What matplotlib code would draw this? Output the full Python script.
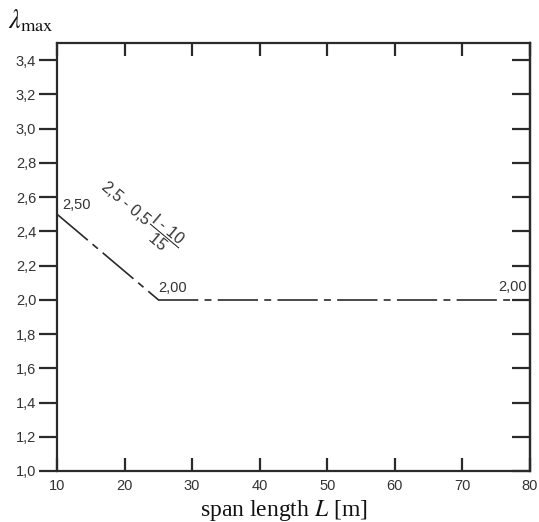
import matplotlib
matplotlib.use("Agg")
import matplotlib.pyplot as plt

# data
span_L = [10, 25, 80]
lam_max = [2.50, 2.00, 2.00]
x_ticks = [10, 20, 30, 40, 50, 60, 70, 80]
y_ticks = [1.0, 1.2, 1.4, 1.6, 1.8, 2.0, 2.2, 2.4, 2.6, 2.8, 3.0, 3.2, 3.4]
point_labels = ["2,50", "2,00", "2,00"]

plt.rcParams['lines.scale_dashes'] = False
plt.rcParams['mathtext.fontset'] = 'custom'
plt.rcParams['mathtext.rm'] = 'Liberation Sans'
plt.rcParams['mathtext.it'] = 'Liberation Sans:italic'
plt.rcParams['mathtext.bf'] = 'Liberation Sans:bold'

ink = '#2a2a2a'
fig = plt.figure(figsize=(5.39, 5.22), dpi=100)
ax = fig.add_axes([57/539, 51/522, 473/539, 428/522])
ax.set_xlim(10, 80)
ax.set_ylim(1.0, 3.5)

dash = (29, 4.5, 5, 4.5)
ax.plot(span_L[:2], lam_max[:2], color=ink, lw=1.2, dashes=dash)
ax.plot(span_L[1:], lam_max[1:], color=ink, lw=1.2, dashes=dash)

for s in ax.spines.values():
    s.set_linewidth(1.6)
    s.set_color(ink)

tick_font = dict(fontfamily='Liberation Sans', fontsize=10.5, color='#333333')
ax.set_xticks(x_ticks)
ax.set_xticklabels([str(v) for v in x_ticks], **tick_font)
ax.set_yticks(y_ticks)
ax.set_yticklabels([f"{v:.1f}".replace('.', ',') for v in y_ticks], **tick_font)
ax.tick_params(axis='x', direction='in', length=9.5, width=1.6, color=ink, top=True, pad=6)
ax.tick_params(axis='y', direction='out', length=13, width=1.6, color=ink, pad=2)
ax2 = ax.secondary_yaxis('right')
ax2.set_yticks(y_ticks)
ax2.set_yticklabels([])
ax2.tick_params(axis='y', direction='in', length=13, width=1.6, color=ink)
ax2.spines['right'].set_linewidth(1.6)
ax2.spines['right'].set_color(ink)

lab_font = dict(fontfamily='Liberation Sans', fontsize=10.5, color='#333333')
# point labels
ax.text(10.8, 2.53, point_labels[0], ha='left', va='baseline', **lab_font)
ax.text(25.0, 2.045, point_labels[1], ha='left', va='baseline', **lab_font)
ax.text(79.5, 2.05, point_labels[2], ha='right', va='baseline', **lab_font)

# formula
ax.text(22.4, 2.49, r'$2{,}5\ \text{-}\ 0{,}5\,\dfrac{\mathrm{l}\ \text{-}\ 10}{15}$', fontsize=11.5, color='#333333',
        rotation=-40, rotation_mode='anchor', ha='center', va='center')

# axis labels
fig.text(8/539, (522-28)/522, r'$\lambda_{\mathrm{max}}$', math_fontfamily='stix', fontsize=19, color='#111111',
         ha='left', va='baseline')
fig.text(284/539, 6/522, r'span length $L$ [m]', math_fontfamily='stix', fontfamily='Liberation Serif',
         fontsize=17, color='#111111', ha='center', va='baseline')

fig.savefig('out.png', dpi=100)
